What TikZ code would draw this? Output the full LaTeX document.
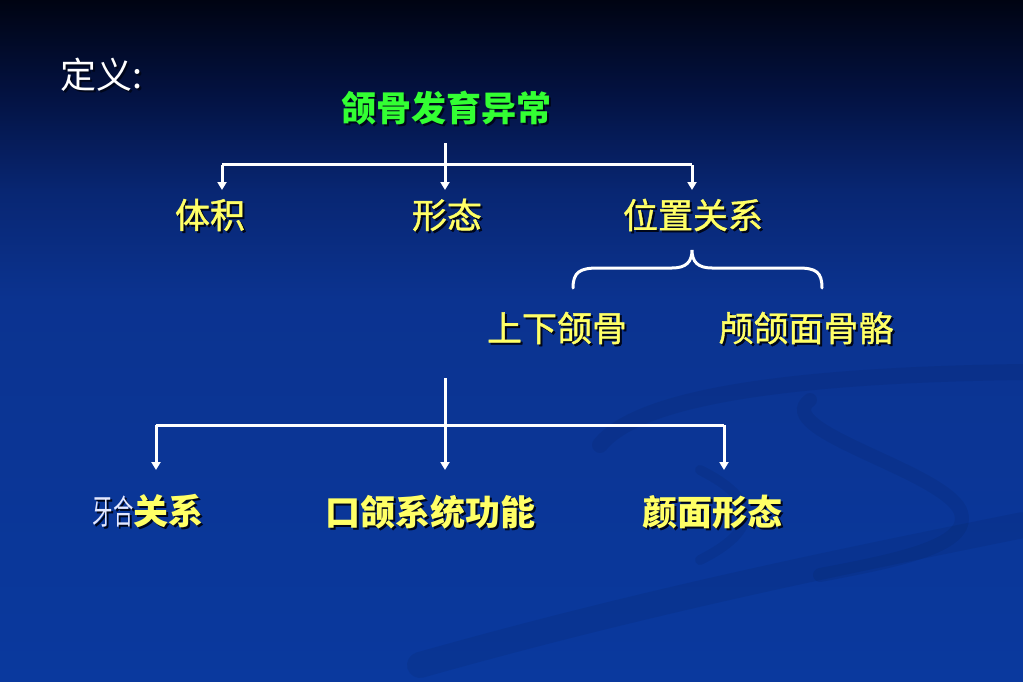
\documentclass[tikz,border=0pt]{standalone}
\usepackage{fontspec}
\newfontfamily\cjk{Noto Sans CJK SC}
\newfontfamily\cjkm[FakeBold=1.2]{Noto Sans CJK SC}
\usetikzlibrary{arrows.meta}
\definecolor{bgA}{HTML}{000412}
\definecolor{bgB}{HTML}{03113F}
\definecolor{bgC}{HTML}{082672}
\definecolor{bgD}{HTML}{0B3390}
\definecolor{bgE}{HTML}{0A399E}
\definecolor{ylw}{HTML}{FFFF66}
\definecolor{grn}{HTML}{33FF33}
\definecolor{shd}{HTML}{00061A}
\definecolor{occw}{HTML}{E4E8FF}
\newcommand{\shtext}[4]{%
  \node[#3,text=shd,xshift=2pt,yshift=-2pt] at (#2) {#4};
  \node[#3] (#1) at (#2) {#4};}
\tikzset{
  base/.style={inner sep=0pt,anchor=center,font=\cjk\fontsize{35}{40}\selectfont},
  lvl/.style={base,text=ylw,font=\cjkm\fontsize{35}{40}\selectfont},
  lvlb/.style={base,text=ylw,font=\cjk\bfseries\fontsize{35}{40}\selectfont},
  ttl/.style={base,text=grn,font=\cjk\bfseries\fontsize{35}{40}\selectfont},
  conn/.style={draw=white,line width=3pt},
  arr/.style={conn,-{Triangle[width=9pt,length=8pt]}},
  swoosh/.style={draw=black,opacity=0.06,line cap=round}
}
\begin{document}
\begin{tikzpicture}[x=1pt,y=-1pt]
\useasboundingbox (0,0) rectangle (1023,682);
% background
\shade[top color=bgA,bottom color=bgB] (0,0) rectangle (1023,90);
\shade[top color=bgB,bottom color=bgC] (0,89.5) rectangle (1023,190);
\shade[top color=bgC,bottom color=bgD] (0,189.5) rectangle (1023,300);
\shade[top color=bgD,bottom color=bgE] (0,299.5) rectangle (1023,682);
% faint swoosh decoration
\draw[swoosh,line width=16pt] (600,445) .. controls (640,395) and (800,375) .. (1023,372);
\draw[swoosh,line width=14pt] (810,400) .. controls (770,430) and (940,470) .. (960,510) .. controls (975,545) and (900,560) .. (820,575);
\draw[swoosh,line width=26pt] (420,665) .. controls (650,600) and (850,560) .. (1023,525);
\draw[swoosh,line width=10pt] (700,470) .. controls (760,500) and (760,530) .. (700,560);
% texts
\shtext{def}{102,75}{base,text=white,font=\cjk\fontsize{36}{40}\selectfont}{定义:}
\shtext{root}{446,108}{ttl}{颌骨发育异常}
\shtext{vol}{210,215}{lvl}{体积}
\shtext{shape}{447,215}{lvl}{形态}
\shtext{pos}{693,215}{lvl}{位置关系}
\shtext{jaw}{557,328}{lvl}{上下颌骨}
\shtext{skull}{806,328}{lvl}{颅颌面骨骼}
\node[lvlb,text=shd,xshift=2pt,yshift=-2pt] at (148,511) {\scalebox{0.6}[1]{\cjk\mdseries\fontsize{34}{40}\selectfont 牙合}关系};
\node[lvlb] (occ) at (148,511) {\scalebox{0.6}[1]{\color{occw}\cjk\mdseries\fontsize{34}{40}\selectfont 牙合}关系};
\shtext{func}{430,512}{lvlb}{口颌系统功能}
\shtext{face}{712,512}{lvlb}{颜面形态}
% upper tree
\coordinate (t0) at (445,143);
\coordinate (tL) at (222,165);
\coordinate (tM) at (445,165);
\coordinate (tR) at (692,165);
\coordinate (aL) at (222,190);
\coordinate (aM) at (445,190);
\coordinate (aR) at (692,190);
\draw[conn] (tL) -- (tR);
\draw[arr] (t0) -- (aM);
\draw[arr] (tL) -- (aL);
\draw[arr] (tR) -- (aR);
% brace
\coordinate (bL) at (573,288);
\coordinate (bT) at (692,250);
\coordinate (bR) at (822,288);
\draw[conn,line cap=round] (bL) .. controls (573,272) and (580,268) .. (598,268) -- (672,268)
  .. controls (686,268) and (692,262) .. (bT)
  .. controls (692,262) and (698,268) .. (712,268) -- (798,268)
  .. controls (816,268) and (822,272) .. (bR);
% lower tree
\coordinate (u0) at (445,378);
\coordinate (uL) at (156,425);
\coordinate (uM) at (445,425);
\coordinate (uR) at (724,425);
\coordinate (bL2) at (156,470);
\coordinate (bM2) at (445,470);
\coordinate (bR2) at (724,470);
\draw[conn] (uL) -- (uR);
\draw[arr] (u0) -- (bM2);
\draw[arr] (uL) -- (bL2);
\draw[arr] (uR) -- (bR2);
\end{tikzpicture}
\end{document}
